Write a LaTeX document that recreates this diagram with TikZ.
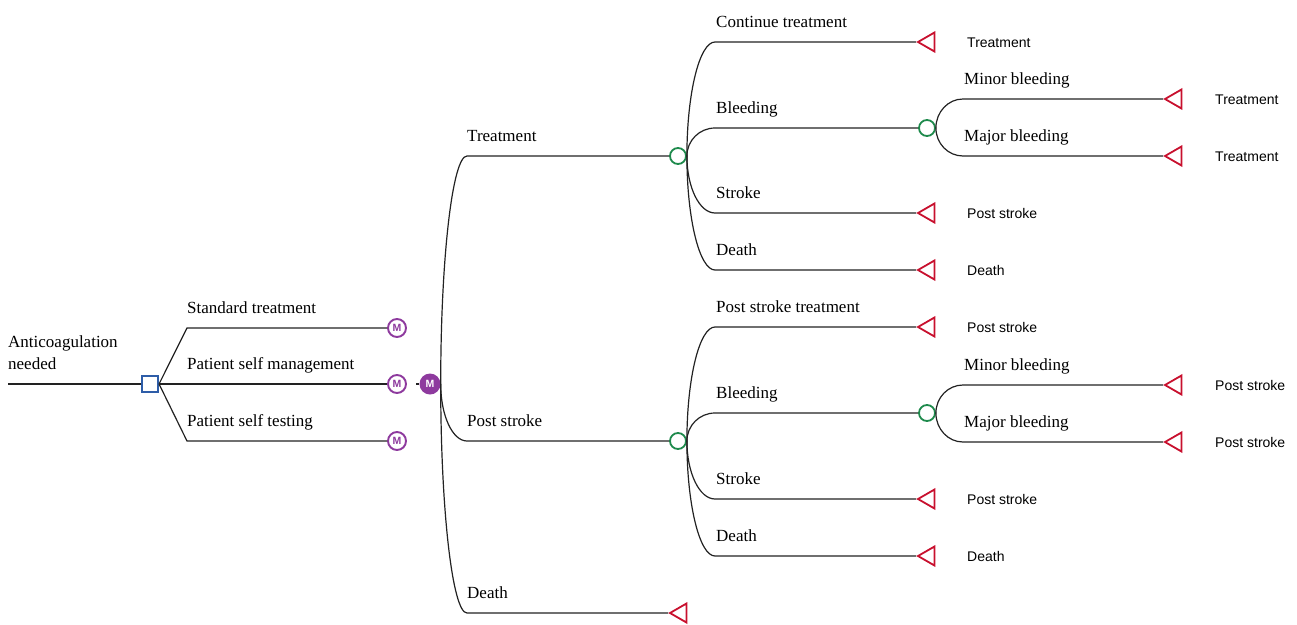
\documentclass[tikz,border=0pt]{standalone}
\usepackage{fontspec}
\setmainfont{Liberation Serif}
\newfontfamily\sansf{Liberation Sans}
\usetikzlibrary{shapes.geometric,calc}
\definecolor{decblue}{HTML}{2E5DA8}
\definecolor{markpurple}{HTML}{8E3A9E}
\definecolor{chgreen}{HTML}{1E8A4C}
\definecolor{termred}{HTML}{C8102E}
\definecolor{linegray}{HTML}{222222}
\begin{document}
\begin{tikzpicture}[x=1pt,y=-1pt,
 branch/.style={draw=linegray, line width=1.2pt},
 ell/.style={to path={.. controls ($(\tikztostart)!.552!(\tikztostart|-\tikztotarget)$) and ($(\tikztotarget)!.552!(\tikztostart|-\tikztotarget)$) .. (\tikztotarget)}},
 decnode/.style={rectangle, draw=decblue, line width=1.6pt, fill=white, minimum size=16.5pt, inner sep=0},
 markov/.style={circle, draw=markpurple, line width=1.9pt, fill=white, minimum size=18pt, inner sep=0, text=markpurple, font=\sansf\bfseries\fontsize{10.5}{10.5}\selectfont},
 markovfill/.style={circle, fill=markpurple, minimum size=21pt, inner sep=0, text=white, font=\sansf\bfseries\fontsize{10.5}{10.5}\selectfont},
 chance/.style={circle, draw=chgreen, line width=1.8pt, fill=white, minimum size=16pt, inner sep=0},
 term/.style={regular polygon, regular polygon sides=3, shape border rotate=90, draw=termred, line width=1.8pt, minimum size=22pt, inner sep=0},
 lbl/.style={anchor=base west, inner sep=0, font=\fontsize{17}{22}\selectfont},
 tlbl/.style={anchor=base west, inner sep=0, font=\sansf\fontsize{14}{17}\selectfont},
]
\useasboundingbox (0,0) rectangle (1297,624);

% ---- decision part
\coordinate (root) at (8,384);
\node[decnode] (dec) at (150,384) {};
\node[markov] (m1) at (397,328) {M};
\node[markov] (m2) at (397,384) {M};
\node[markov] (m3) at (397,441) {M};
\node[markovfill] (mk) at (430,384) {M};
\coordinate (d1) at (187,328);
\coordinate (d3) at (187,441);
\coordinate (mkd) at (416,384);
\draw[branch] (root) -- (dec.west);
\draw[branch] (dec.east) -- (d1) -- (m1.west);
\draw[branch] (dec.east) -- (m2.west);
\draw[branch] (dec.east) -- (d3) -- (m3.west);
\draw[branch] (mkd) -- (mk.west);

\node[lbl, anchor=south west, align=left] (rootl) at (8,370) {Anticoagulation\\needed};
\node[lbl] (l1) at (187,313) {Standard treatment};
\node[lbl] (l2) at (187,369) {Patient self management};
\node[lbl] (l3) at (187,426) {Patient self testing};

% ---- markov states
\node[chance] (c1) at (678,156) {};
\node[chance] (c3) at (678,441) {};
\node[term] (tD) at (681,613) {};
\coordinate (bT) at (467,156);
\coordinate (bP) at (467,441);
\coordinate (bD) at (467,613);
\draw[branch] (mk.east) to[ell] (bT) -- (c1.west);
\draw[branch] (mk.east) to[ell] (bP) -- (c3.west);
\draw[branch] (mk.east) to[ell] (bD) -- (tD.west);
\node[lbl] (lT) at (467,141) {Treatment};
\node[lbl] (lP) at (467,426) {Post stroke};
\node[lbl] (lD) at (467,598) {Death};

% ---- upper chance node
\node[term] (t1) at (929,42) {};
\node[chance] (c2) at (927,128) {};
\node[term] (t3) at (929,213) {};
\node[term] (t4) at (929,270) {};
\coordinate (u1) at (715,42);
\coordinate (u2) at (715,128);
\coordinate (u3) at (715,213);
\coordinate (u4) at (715,270);
\draw[branch] (c1.east) to[ell] (u1) -- (t1.west);
\draw[branch] (c1.east) to[ell] (u2) -- (c2.west);
\draw[branch] (c1.east) to[ell] (u3) -- (t3.west);
\draw[branch] (c1.east) to[ell] (u4) -- (t4.west);
\node[lbl] (lu1) at (716,27) {Continue treatment};
\node[lbl] (lu2) at (716,113) {Bleeding};
\node[lbl] (lu3) at (716,198) {Stroke};
\node[lbl] (lu4) at (716,255) {Death};
\node[tlbl] (tl1) at (967,47) {Treatment};
\node[tlbl] (tl3) at (967,218) {Post stroke};
\node[tlbl] (tl4) at (967,275) {Death};

\node[term] (t5) at (1176,99) {};
\node[term] (t6) at (1176,156) {};
\coordinate (v1) at (963,99);
\coordinate (v2) at (963,156);
\draw[branch] (c2.east) to[ell] (v1) -- (t5.west);
\draw[branch] (c2.east) to[ell] (v2) -- (t6.west);
\node[lbl] (lv1) at (964,84) {Minor bleeding};
\node[lbl] (lv2) at (964,141) {Major bleeding};
\node[tlbl] (tl5) at (1215,104) {Treatment};
\node[tlbl] (tl6) at (1215,161) {Treatment};

% ---- lower chance node
\node[term] (t7) at (929,327) {};
\node[chance] (c4) at (927,413) {};
\node[term] (t9) at (929,499) {};
\node[term] (t10) at (929,556) {};
\coordinate (w1) at (715,327);
\coordinate (w2) at (715,413);
\coordinate (w3) at (715,499);
\coordinate (w4) at (715,556);
\draw[branch] (c3.east) to[ell] (w1) -- (t7.west);
\draw[branch] (c3.east) to[ell] (w2) -- (c4.west);
\draw[branch] (c3.east) to[ell] (w3) -- (t9.west);
\draw[branch] (c3.east) to[ell] (w4) -- (t10.west);
\node[lbl] (lw1) at (716,312) {Post stroke treatment};
\node[lbl] (lw2) at (716,398) {Bleeding};
\node[lbl] (lw3) at (716,484) {Stroke};
\node[lbl] (lw4) at (716,541) {Death};
\node[tlbl] (tl7) at (967,332) {Post stroke};
\node[tlbl] (tl9) at (967,504) {Post stroke};
\node[tlbl] (tl10) at (967,561) {Death};

\node[term] (t11) at (1176,385) {};
\node[term] (t12) at (1176,442) {};
\coordinate (z1) at (963,385);
\coordinate (z2) at (963,442);
\draw[branch] (c4.east) to[ell] (z1) -- (t11.west);
\draw[branch] (c4.east) to[ell] (z2) -- (t12.west);
\node[lbl] (lz1) at (964,370) {Minor bleeding};
\node[lbl] (lz2) at (964,427) {Major bleeding};
\node[tlbl] (tl11) at (1215,390) {Post stroke};
\node[tlbl] (tl12) at (1215,447) {Post stroke};
\end{tikzpicture}
\end{document}
